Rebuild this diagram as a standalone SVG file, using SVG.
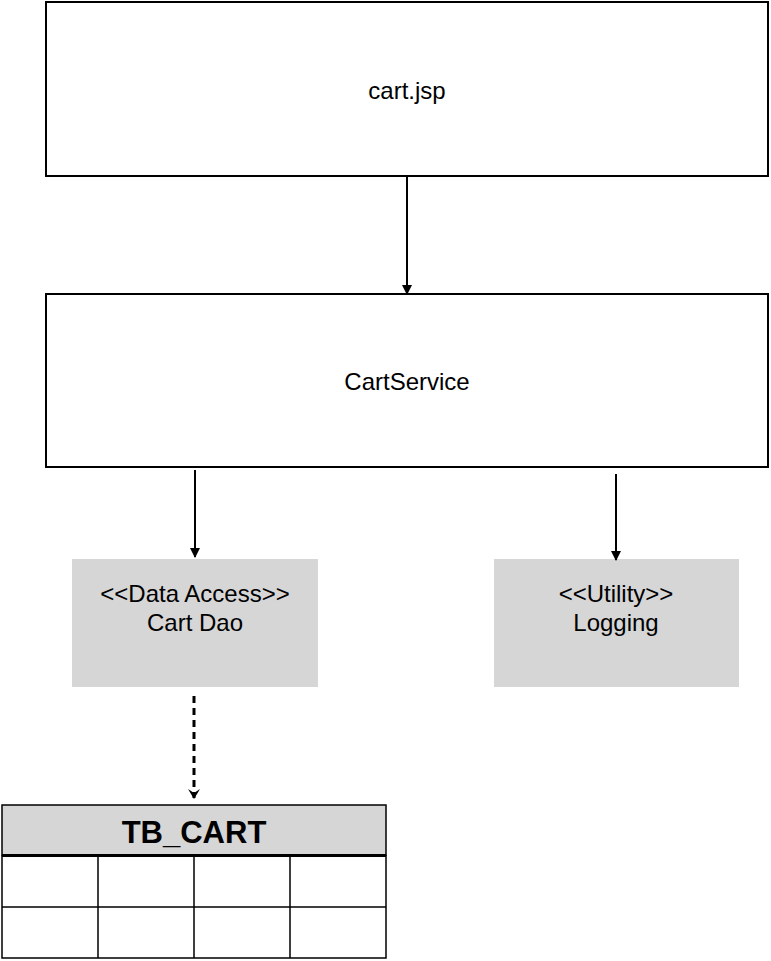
<svg xmlns="http://www.w3.org/2000/svg" width="771" height="961" viewBox="0 0 771 961">
<style>
.box{fill:#fff;stroke:#000;stroke-width:2}
.comp{fill:#d6d6d6;stroke:none}
.t{font-family:"Liberation Sans",Arial,sans-serif;font-size:24px;fill:#000;text-anchor:middle}
.tb{font-family:"Liberation Sans",Arial,sans-serif;font-size:31px;font-weight:bold;fill:#000;text-anchor:middle}
.c{stroke:#000;stroke-width:2;fill:none}
.d{stroke:#000;stroke-width:3;fill:none;stroke-dasharray:7,5}
.grid{stroke:#000;stroke-width:1.5;fill:none}
</style>
<defs>
<marker id="ah" markerWidth="10" markerHeight="10" refX="9" refY="5" orient="auto" markerUnits="userSpaceOnUse" viewBox="0 0 10 10">
<path d="M0,0 L10,5 L0,10 Z" fill="#000"/>
</marker>
<marker id="ah2" markerWidth="10" markerHeight="12" refX="9" refY="6" orient="auto" markerUnits="userSpaceOnUse" viewBox="0 0 10 12">
<path d="M0,0 L4,6 L0,12 L10,6 Z" fill="#000"/>
</marker>
</defs>
<g id="cartjsp">
<rect class="box" x="46" y="2" width="722" height="174"/>
<text class="t" x="407" y="99">cart.jsp</text>
</g>
<g id="cartservice">
<rect class="box" x="46" y="294" width="722" height="173"/>
<text class="t" x="407" y="390">CartService</text>
</g>
<g id="cartdao">
<rect class="comp" x="72" y="559" width="246" height="128"/>
<text class="t" x="195" y="602">&lt;&lt;Data Access&gt;&gt;</text>
<text class="t" x="195" y="631">Cart Dao</text>
</g>
<g id="logging">
<rect class="comp" x="494" y="559" width="245" height="128"/>
<text class="t" x="616" y="602">&lt;&lt;Utility&gt;&gt;</text>
<text class="t" x="616" y="631">Logging</text>
</g>
<g id="tbcart">
<rect x="2" y="805" width="384" height="50" fill="#d6d6d6" stroke="#000" stroke-width="1.5"/>
<rect x="2" y="856" width="384" height="102" fill="#fff"/>
<text class="tb" x="194" y="843">TB_CART</text>
<line x1="2" y1="855.5" x2="386" y2="855.5" stroke="#000" stroke-width="3"/>
<path class="grid" d="M2,855 V958 H386 V855 M2,907 H386 M98,857 V958 M194,857 V958 M290,857 V958"/>
</g>
<g id="connectors">
<line class="c" x1="407" y1="176" x2="407" y2="294" marker-end="url(#ah)"/>
<line class="c" x1="195" y1="470" x2="195" y2="557" marker-end="url(#ah)"/>
<line class="c" x1="616" y1="474" x2="616" y2="560" marker-end="url(#ah)"/>
<line class="d" x1="194" y1="696" x2="194" y2="798" marker-end="url(#ah2)"/>
</g>
</svg>
